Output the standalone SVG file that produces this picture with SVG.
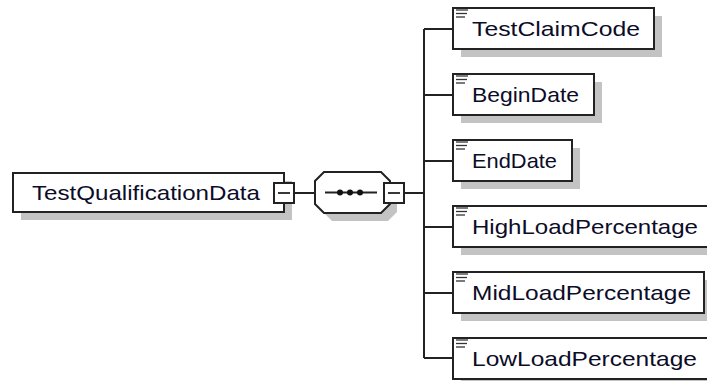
<svg xmlns="http://www.w3.org/2000/svg" width="707" height="381" viewBox="0 0 707 381">
<style>
.bg{fill:#ffffff}
.shadow{fill:#c3c3c3}
.box{fill:#ffffff;stroke:#222;stroke-width:2}
.lbl{font-family:"Liberation Sans",Arial,sans-serif;font-size:21px;fill:#0c0c28}
.conn{stroke:#222;stroke-width:2;fill:none}
.ico{stroke:#333;stroke-width:1.3}
</style>
<defs>
<g id="doc">
<line class="ico" x1="0" y1="0" x2="12" y2="0"/>
<line class="ico" x1="0" y1="3.5" x2="11" y2="3.5"/>
<line class="ico" x1="0" y1="7" x2="9" y2="7"/>
</g>
<g id="minus">
<rect x="0" y="0" width="20" height="20" fill="#fff" stroke="#222" stroke-width="2"/>
<line x1="4" y1="10" x2="16" y2="10" stroke="#222" stroke-width="1.8"/>
</g>
</defs>
<rect class="bg" x="0" y="0" width="707" height="381"/>

<g id="connectors">
<line class="conn" x1="294" y1="193" x2="315" y2="193"/>
<line class="conn" x1="404" y1="193" x2="424" y2="193"/>
<line class="conn" x1="424" y1="29" x2="424" y2="358"/>
<line class="conn" x1="424" y1="29" x2="453" y2="29"/>
<line class="conn" x1="424" y1="95" x2="453" y2="95"/>
<line class="conn" x1="424" y1="161" x2="453" y2="161"/>
<line class="conn" x1="424" y1="227" x2="453" y2="227"/>
<line class="conn" x1="424" y1="293" x2="453" y2="293"/>
<line class="conn" x1="424" y1="358" x2="453" y2="358"/>
</g>

<g id="root">
<rect class="shadow" x="21" y="181" width="271" height="39"/>
<rect class="box" x="13" y="173" width="271" height="39"/>
<text class="lbl" x="32" y="200" textLength="228" lengthAdjust="spacingAndGlyphs">TestQualificationData</text>
<use href="#minus" x="274" y="183"/>
</g>

<g id="sequence">
<polygon class="shadow" points="332,180 388,180 397,189 397,212 388,221 332,221 323,212 323,189"/>
<polygon class="box" points="324,172 381,172 390,181 390,204 381,213 324,213 315,204 315,181"/>
<line class="conn" x1="325" y1="192.5" x2="377" y2="192.5"/>
<circle cx="340" cy="192.5" r="3" fill="#111"/>
<circle cx="350" cy="192.5" r="3" fill="#111"/>
<circle cx="360" cy="192.5" r="3" fill="#111"/>
<use href="#minus" x="384" y="183"/>
</g>

<g id="TestClaimCode">
<rect class="shadow" x="461" y="16" width="201" height="41"/>
<rect class="box" x="453" y="8" width="201" height="41"/>
<use href="#doc" x="456" y="10"/>
<text class="lbl" x="472" y="36" textLength="168" lengthAdjust="spacingAndGlyphs">TestClaimCode</text>
</g>

<g id="BeginDate">
<rect class="shadow" x="461" y="82" width="141" height="41"/>
<rect class="box" x="453" y="74" width="141" height="41"/>
<use href="#doc" x="456" y="76"/>
<text class="lbl" x="472" y="102" textLength="107" lengthAdjust="spacingAndGlyphs">BeginDate</text>
</g>

<g id="EndDate">
<rect class="shadow" x="461" y="148" width="119" height="41"/>
<rect class="box" x="453" y="140" width="119" height="41"/>
<use href="#doc" x="456" y="142"/>
<text class="lbl" x="472" y="168" textLength="85" lengthAdjust="spacingAndGlyphs">EndDate</text>
</g>

<g id="HighLoadPercentage">
<rect class="shadow" x="461" y="214" width="259" height="41"/>
<rect class="box" x="453" y="206" width="259" height="41"/>
<use href="#doc" x="456" y="208"/>
<text class="lbl" x="472" y="234" textLength="226" lengthAdjust="spacingAndGlyphs">HighLoadPercentage</text>
</g>

<g id="MidLoadPercentage">
<rect class="shadow" x="461" y="280" width="251" height="41"/>
<rect class="box" x="453" y="272" width="251" height="41"/>
<use href="#doc" x="456" y="274"/>
<text class="lbl" x="472" y="300" textLength="219" lengthAdjust="spacingAndGlyphs">MidLoadPercentage</text>
</g>

<g id="LowLoadPercentage">
<rect class="shadow" x="461" y="346" width="259" height="41"/>
<rect class="box" x="453" y="338" width="259" height="41"/>
<use href="#doc" x="456" y="340"/>
<text class="lbl" x="472" y="366" textLength="225" lengthAdjust="spacingAndGlyphs">LowLoadPercentage</text>
</g>
</svg>
